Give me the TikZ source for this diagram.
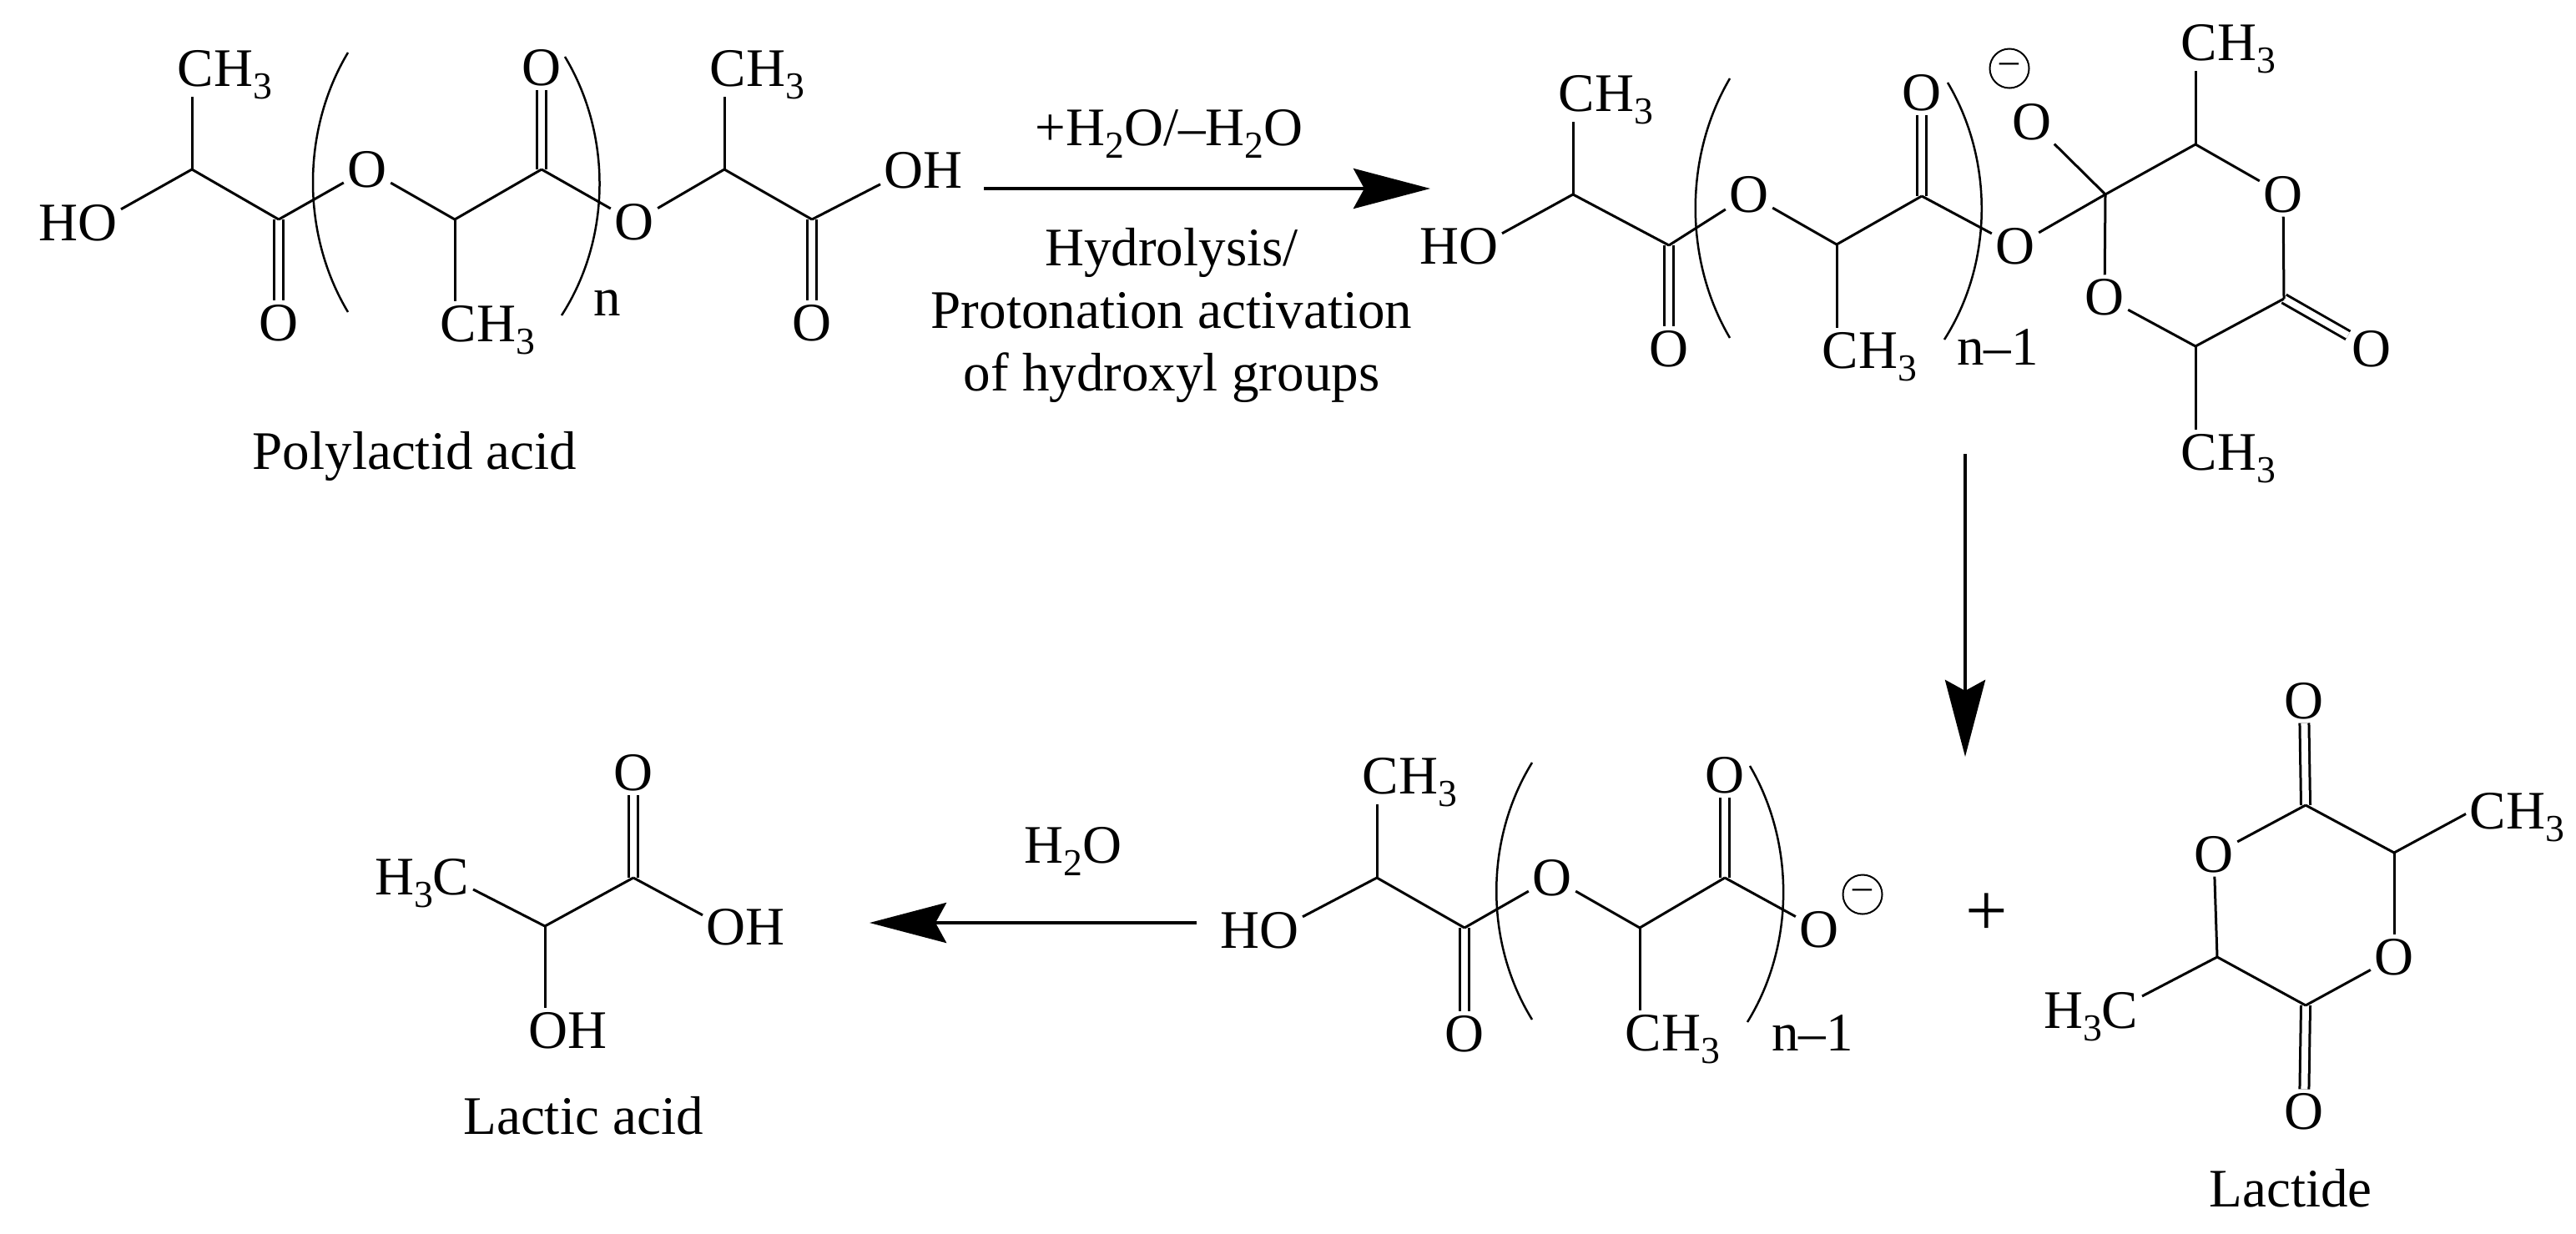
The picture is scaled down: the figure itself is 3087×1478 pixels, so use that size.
\documentclass[tikz,border=0pt]{standalone}
\usepackage{fontspec}
\setmainfont{Liberation Serif}
\usetikzlibrary{arrows.meta,calc}
\newcommand\subn[1]{\raisebox{-.15cm}[0pt][.08cm]{\fontsize{13}{13}\selectfont #1}}
\newcommand\brk[5]{\draw[bracketline] (#1,#2) .. controls (#5,{#2+0.3*(#4-#2)}) and (#5,{#2+0.7*(#4-#2)}) .. (#3,#4);}
\tikzset{
  txt/.style={font=\fontsize{18.5}{21.3}\selectfont,inner sep=0pt,text=black},
  atom/.style={txt,inner sep=.04cm},
  lblw/.style={atom,anchor=base west},
  lble/.style={atom,anchor=base east},
  caption/.style={txt,anchor=base},
  bond/.style={draw=black,line width=.03cm},
  dbl/.style={draw=black,line width=.03cm,double=white,double distance=.08cm},
  bracketline/.style={draw=black,line width=.025cm},
  rxn/.style={draw=black,line width=.045cm,-{Stealth[length=.92cm,width=.48cm,inset=.13cm]}},
  charge/.style={circle,draw=black,line width=.02cm,minimum size=.47cm,inner sep=0pt,font=\fontsize{13}{13}\selectfont},
}
\begin{document}
\begin{tikzpicture}[x=.01cm,y=-.01cm]
\path[use as bounding box,fill=white] (0,0) rectangle (3087,1478);

% ---------- Polylactid acid
\coordinate (ac1) at (230,203);
\coordinate (ac2) at (334,263);
\coordinate (ac3) at (545,263);
\coordinate (ac4) at (649,203);
\coordinate (ac5) at (868,203);
\coordinate (ac6) at (973,263);
\node[lble] (aho) at (145,288) {HO};
\node[lblw] (ame1) at (208,103) {CH\subn{3}};
\node[atom] (ao1) at (334,387) {O};
\node[atom] (ao2) at (440,203) {O};
\node[lblw] (ame2) at (523,409) {CH\subn{3}};
\node[atom] (ao3) at (649,81) {O};
\node[atom] (ao4) at (760,266) {O};
\node[lblw] (ame3) at (846,103) {CH\subn{3}};
\node[atom] (ao5) at (973,387) {O};
\node[lblw] (aoh) at (1055,225) {OH};
\node[caption] (an) at (728,378) {n};
\node[caption] (acap) at (497,562) {Polylactid acid};
\draw[dbl] (ac2) -- (ao1);
\draw[dbl] (ac4) -- (ao3);
\draw[dbl] (ac6) -- (ao5);
\draw[bond] ([yshift=.16cm]aho.east) -- (ac1);
\draw[bond] (ac1) -- (ac1 |- ame1.south);
\draw[bond] (ac1) -- (ac2);
\draw[bond] (ac2) -- (ao2);
\draw[bond] (ao2) -- (ac3);
\draw[bond] (ac3) -- (ac3 |- ame2.north);
\draw[bond] (ac3) -- (ac4);
\draw[bond] (ac4) -- (ao4);
\draw[bond] (ao4) -- (ac5);
\draw[bond] (ac5) -- (ac5 |- ame3.south);
\draw[bond] (ac5) -- (ac6);
\draw[bond] (ac6) -- ([yshift=-.17cm]aoh.west);
\brk{417}{63}{417}{374}{361}
\brk{677}{68}{673}{378}{733}

% ---------- Arrow 1 and its labels
\coordinate (r1s) at (1179,226);
\coordinate (r1e) at (1714,226);
\draw[rxn] (r1s) -- (r1e);
\node[caption] (r1top) at (1401,174) {+H\subn{2}O/–H\subn{2}O};
\node[txt,align=center] (r1bot) at (1404,378) {Hydrolysis/\\Protonation activation\\of hydroxyl groups};

% ---------- Intermediate
\coordinate (bc1) at (1885,233);
\coordinate (bc2) at (2000,294);
\coordinate (bc3) at (2201,293);
\coordinate (bc4) at (2303,235);
\coordinate (bc5) at (2523,233);
\coordinate (bc6) at (2631,173);
\coordinate (bc7) at (2737,358);
\coordinate (bc8) at (2631,415);
\node[lble] (bho) at (1800,316) {HO};
\node[lblw] (bme1) at (1863,133) {CH\subn{3}};
\node[atom] (bo1) at (2000,418) {O};
\node[atom] (bo2) at (2096,233) {O};
\node[lblw] (bme2) at (2179,441) {CH\subn{3}};
\node[atom] (bo3) at (2303,111) {O};
\node[atom] (bo4) at (2415,295) {O};
\node[atom] (bo5) at (2435,146) {O};
\node[charge] (bchg) at (2408,82) {–};
\node[lblw] (bme3) at (2609,72) {CH\subn{3}};
\node[atom] (bo6) at (2736,233) {O};
\node[atom] (bo7) at (2842,418) {O};
\node[atom] (bo8) at (2522,356) {O};
\node[lblw] (bme4) at (2609,563) {CH\subn{3}};
\node[caption] (bn) at (2394,437) {n–1};
\draw[dbl] (bc2) -- (bo1);
\draw[dbl] (bc4) -- (bo3);
\draw[dbl] (bc7) -- (bo7);
\draw[bond] ([yshift=.15cm]bho.east) -- (bc1);
\draw[bond] (bc1) -- (bc1 |- bme1.south);
\draw[bond] (bc1) -- (bc2);
\draw[bond] (bc2) -- (bo2);
\draw[bond] (bo2) -- (bc3);
\draw[bond] (bc3) -- (bc3 |- bme2.north);
\draw[bond] (bc3) -- (bc4);
\draw[bond] (bc4) -- (bo4);
\draw[bond] (bo4) -- (bc5);
\draw[bond] (bc5) -- (bo5);
\draw[bond] (bc5) -- (bc6);
\draw[bond] (bc6) -- (bc6 |- bme3.south);
\draw[bond] (bc6) -- (bo6);
\draw[bond] (bo6) -- (bc7);
\draw[bond] (bc7) -- (bc8);
\draw[bond] (bc8) -- (bc8 |- bme4.north);
\draw[bond] (bc8) -- (bo8);
\draw[bond] (bo8) -- (bc5);
\brk{2073}{94}{2073}{405}{2018}
\brk{2334}{99}{2330}{407}{2389}

% ---------- Arrow 2
\coordinate (r2s) at (2355,544);
\coordinate (r2e) at (2355,907);
\draw[rxn] (r2s) -- (r2e);

% ---------- Lower chain
\coordinate (cc1) at (1650,1052);
\coordinate (cc2) at (1755,1112);
\coordinate (cc3) at (1965,1112);
\coordinate (cc4) at (2067,1052);
\node[lble] (cho) at (1561,1136) {HO};
\node[lblw] (cme1) at (1628,951) {CH\subn{3}};
\node[atom] (co1) at (1755,1239) {O};
\node[atom] (co2) at (1860,1052) {O};
\node[lblw] (cme2) at (1943,1259) {CH\subn{3}};
\node[atom] (co3) at (2067,929) {O};
\node[atom] (co4) at (2180,1114) {O};
\node[charge] (cchg) at (2232,1072) {–};
\node[caption] (cn) at (2172,1259) {n–1};
\draw[dbl] (cc2) -- (co1);
\draw[dbl] (cc4) -- (co3);
\draw[bond] ([yshift=.16cm]cho.east) -- (cc1);
\draw[bond] (cc1) -- (cc1 |- cme1.south);
\draw[bond] (cc1) -- (cc2);
\draw[bond] (cc2) -- (co2);
\draw[bond] (co2) -- (cc3);
\draw[bond] (cc3) -- (cc3 |- cme2.north);
\draw[bond] (cc3) -- (cc4);
\draw[bond] (cc4) -- (co4);
\brk{1836}{914}{1836}{1222}{1779}
\brk{2097}{918}{2094}{1225}{2151}

% ---------- Plus
\node[txt,font=\fontsize{25.5}{26}\selectfont] (plus) at (2381,1096) {+};

% ---------- Lactide
\coordinate (dc1) at (2763,965);
\coordinate (dc2) at (2869,1022);
\coordinate (dc3) at (2763,1205);
\coordinate (dc4) at (2657,1147);
\node[atom] (do1) at (2761,840) {O};
\node[atom] (do2) at (2653,1024) {O};
\node[atom] (do3) at (2869,1147) {O};
\node[atom] (do4) at (2761,1332) {O};
\node[lblw] (dme1) at (2955,993) {CH\subn{3}};
\node[lble] (dme2) at (2567,1232) {H\subn{3}C};
\node[caption] (dcap) at (2745,1446) {Lactide};
\draw[dbl] (dc1) -- (do1);
\draw[dbl] (dc3) -- (do4);
\draw[bond] (dc1) -- (dc2);
\draw[bond] (dc2) -- (dme1.west);
\draw[bond] (dc2) -- (do3);
\draw[bond] (do3) -- (dc3);
\draw[bond] (dc3) -- (dc4);
\draw[bond] (dc4) -- ([yshift=.205cm]dme2.east);
\draw[bond] (dc4) -- (do2);
\draw[bond] (do2) -- (dc1);

% ---------- Arrow 3
\coordinate (r3s) at (1434,1106);
\coordinate (r3e) at (1042,1106);
\draw[rxn] (r3s) -- (r3e);
\node[caption] (r3top) at (1286,1034) {H\subn{2}O};

% ---------- Lactic acid
\coordinate (ec1) at (653,1110);
\coordinate (ec2) at (759,1052);
\node[lble] (eme) at (567,1072) {H\subn{3}C};
\node[atom] (eo1) at (759,926) {O};
\node[lblw] (eoh1) at (842,1132) {OH};
\node[lblw] (eoh2) at (629,1256) {OH};
\node[caption] (ecap) at (699,1359) {Lactic acid};
\draw[dbl] (ec2) -- (eo1);
\draw[bond] ([yshift=-.115cm]eme.east) -- (ec1);
\draw[bond] (ec1) -- (ec1 |- eoh2.north);
\draw[bond] (ec1) -- (ec2);
\draw[bond] (ec2) -- ([yshift=.14cm]eoh1.west);
\end{tikzpicture}
\end{document}
